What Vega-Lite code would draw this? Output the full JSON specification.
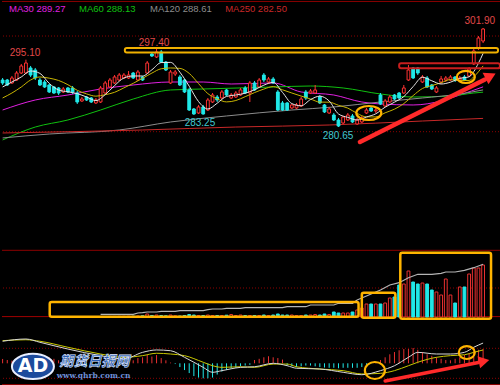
{
"$schema": "https://vega.github.io/schema/vega-lite/v6.json",
"background": "#000000",
"padding": 0,
"spacing": 0,
"config": {"view": {"stroke": null}, "concat": {"spacing": 0}, "text": {"font": "Liberation Sans"}, "scale": {"continuousPadding": 0}},
"datasets": {
"k": [
{"i":0,"o":290.74,"h":291.17,"l":289.67,"c":290.10,"v":0,"m":0.29},
{"i":1,"o":290.74,"h":290.96,"l":289.45,"c":289.67,"v":0,"m":0.22},
{"i":2,"o":290.10,"h":291.60,"l":289.88,"c":291.17,"v":0,"m":0.18},
{"i":3,"o":290.74,"h":292.67,"l":290.53,"c":292.24,"v":0,"m":0.15},
{"i":4,"o":292.24,"h":294.18,"l":292.03,"c":293.75,"v":0,"m":0.2},
{"i":5,"o":292.24,"h":295.10,"l":292.03,"c":294.39,"v":0,"m":0.25},
{"i":6,"o":293.32,"h":293.75,"l":291.39,"c":291.81,"v":0,"m":0.2},
{"i":7,"o":292.89,"h":293.32,"l":290.74,"c":291.17,"v":0,"m":0.15},
{"i":8,"o":290.74,"h":291.17,"l":289.45,"c":289.67,"v":0,"m":0.3},
{"i":9,"o":290.31,"h":290.74,"l":289.03,"c":289.24,"v":0,"m":0.35},
{"i":10,"o":289.67,"h":289.88,"l":287.95,"c":288.17,"v":0,"m":0.4},
{"i":11,"o":289.24,"h":289.45,"l":287.74,"c":287.95,"v":0,"m":0.3},
{"i":12,"o":289.03,"h":289.24,"l":287.52,"c":287.95,"v":0,"m":0.2},
{"i":13,"o":288.17,"h":289.24,"l":287.95,"c":288.81,"v":0,"m":0.1},
{"i":14,"o":289.03,"h":289.24,"l":287.95,"c":288.17,"v":0,"m":-0.1},
{"i":15,"o":289.03,"h":289.45,"l":287.74,"c":288.17,"v":0,"m":-0.15},
{"i":16,"o":287.95,"h":288.38,"l":285.59,"c":286.02,"v":0,"m":-0.2},
{"i":17,"o":286.24,"h":287.09,"l":286.02,"c":286.66,"v":0,"m":-0.2},
{"i":18,"o":287.09,"h":287.31,"l":286.24,"c":286.45,"v":0,"m":-0.15},
{"i":19,"o":286.88,"h":287.09,"l":285.81,"c":286.02,"v":0,"m":-0.1},
{"i":20,"o":285.81,"h":286.88,"l":285.59,"c":286.45,"v":0,"m":-0.1},
{"i":21,"o":286.02,"h":289.45,"l":285.81,"c":289.03,"v":0.5,"m":-0.08},
{"i":22,"o":287.95,"h":290.53,"l":287.74,"c":290.10,"v":0.5,"m":-0.05},
{"i":23,"o":289.24,"h":291.17,"l":289.03,"c":290.74,"v":0.6,"m":0.05},
{"i":24,"o":290.10,"h":291.81,"l":289.88,"c":291.39,"v":0.6,"m":0.1},
{"i":25,"o":290.74,"h":292.24,"l":290.53,"c":291.81,"v":0.7,"m":0.1},
{"i":26,"o":291.17,"h":292.24,"l":290.96,"c":291.81,"v":0.7,"m":0.1},
{"i":27,"o":291.17,"h":292.67,"l":290.96,"c":291.81,"v":0.8,"m":0.15},
{"i":28,"o":292.24,"h":292.46,"l":290.96,"c":291.17,"v":0.8,"m":0.2},
{"i":29,"o":290.74,"h":292.89,"l":290.53,"c":292.46,"v":1.0,"m":0.35},
{"i":30,"o":291.39,"h":291.60,"l":290.53,"c":290.74,"v":1.2,"m":0.4},
{"i":31,"o":292.24,"h":294.82,"l":292.03,"c":294.39,"v":3.0,"m":0.55},
{"i":32,"o":296.32,"h":296.54,"l":295.68,"c":295.89,"v":1.5,"m":0.45},
{"i":33,"o":295.68,"h":297.40,"l":295.46,"c":296.75,"v":2.0,"m":0.55},
{"i":34,"o":296.75,"h":297.18,"l":294.39,"c":294.60,"v":1.5,"m":0.35},
{"i":35,"o":294.60,"h":294.82,"l":292.67,"c":292.89,"v":1.2,"m":0.2},
{"i":36,"o":290.10,"h":292.89,"l":289.88,"c":292.46,"v":2.0,"m":0.05},
{"i":37,"o":292.03,"h":292.89,"l":291.60,"c":292.46,"v":1.2,"m":-0.05},
{"i":38,"o":291.39,"h":291.81,"l":289.45,"c":289.67,"v":1.0,"m":-0.25},
{"i":39,"o":290.74,"h":290.96,"l":287.95,"c":288.17,"v":1.5,"m":-0.45},
{"i":40,"o":288.60,"h":289.03,"l":284.09,"c":284.30,"v":2.5,"m":-0.65},
{"i":41,"o":284.52,"h":284.73,"l":283.25,"c":283.45,"v":2.0,"m":-0.85},
{"i":42,"o":283.66,"h":285.38,"l":283.45,"c":284.95,"v":1.5,"m":-0.95},
{"i":43,"o":284.95,"h":285.38,"l":283.30,"c":283.45,"v":1.5,"m":-1.0},
{"i":44,"o":284.30,"h":286.88,"l":284.09,"c":286.45,"v":2.0,"m":-1.0},
{"i":45,"o":286.02,"h":287.95,"l":285.81,"c":287.52,"v":1.5,"m":-0.95},
{"i":46,"o":287.09,"h":287.52,"l":286.02,"c":286.45,"v":1.5,"m":-0.75},
{"i":47,"o":286.88,"h":288.60,"l":286.66,"c":288.17,"v":1.5,"m":-0.55},
{"i":48,"o":288.60,"h":288.81,"l":287.31,"c":287.52,"v":1.8,"m":-0.45},
{"i":49,"o":286.88,"h":287.95,"l":286.66,"c":287.52,"v":2.5,"m":-0.35},
{"i":50,"o":287.09,"h":288.38,"l":286.88,"c":287.95,"v":1.5,"m":-0.3},
{"i":51,"o":287.52,"h":289.03,"l":287.31,"c":288.60,"v":2.0,"m":-0.2},
{"i":52,"o":289.03,"h":289.45,"l":287.74,"c":287.95,"v":1.5,"m":-0.15},
{"i":53,"o":287.95,"h":290.53,"l":286.02,"c":290.10,"v":1.5,"m":-0.1},
{"i":54,"o":290.10,"h":290.53,"l":288.38,"c":288.60,"v":1.5,"m":0.22},
{"i":55,"o":289.24,"h":291.17,"l":289.03,"c":290.74,"v":1.5,"m":0.3},
{"i":56,"o":291.81,"h":292.24,"l":290.31,"c":290.74,"v":2.0,"m":0.4},
{"i":57,"o":290.31,"h":291.39,"l":289.88,"c":290.96,"v":1.5,"m":0.47},
{"i":58,"o":290.96,"h":291.39,"l":289.88,"c":290.10,"v":2.0,"m":0.4},
{"i":59,"o":288.17,"h":288.60,"l":284.09,"c":284.30,"v":3.0,"m":0.35},
{"i":60,"o":285.81,"h":286.24,"l":284.09,"c":284.30,"v":2.0,"m":0.25},
{"i":61,"o":285.81,"h":286.02,"l":284.09,"c":284.30,"v":2.0,"m":-0.15},
{"i":62,"o":284.73,"h":285.59,"l":284.52,"c":285.38,"v":2.0,"m":-0.2},
{"i":63,"o":284.73,"h":285.81,"l":284.52,"c":285.38,"v":1.5,"m":-0.25},
{"i":64,"o":285.16,"h":287.09,"l":284.95,"c":286.66,"v":1.5,"m":-0.2},
{"i":65,"o":288.17,"h":288.60,"l":286.45,"c":286.88,"v":2.0,"m":-0.15},
{"i":66,"o":287.95,"h":288.81,"l":287.74,"c":288.38,"v":2.0,"m":-0.15},
{"i":67,"o":287.95,"h":289.67,"l":287.74,"c":288.60,"v":2.5,"m":-0.2},
{"i":68,"o":287.09,"h":287.52,"l":285.59,"c":285.81,"v":2.0,"m":-0.25},
{"i":69,"o":285.38,"h":285.59,"l":283.66,"c":283.88,"v":3.0,"m":-0.28},
{"i":70,"o":283.66,"h":284.95,"l":283.45,"c":284.52,"v":2.5,"m":-0.3},
{"i":71,"o":283.23,"h":283.66,"l":281.94,"c":282.16,"v":5.0,"m":-0.3},
{"i":72,"o":282.16,"h":282.59,"l":280.65,"c":280.87,"v":4.0,"m":-0.33},
{"i":73,"o":281.51,"h":283.02,"l":281.30,"c":282.80,"v":4.0,"m":-0.3},
{"i":74,"o":282.16,"h":283.66,"l":281.94,"c":283.23,"v":4.0,"m":-0.3},
{"i":75,"o":283.02,"h":283.45,"l":281.51,"c":281.73,"v":5.0,"m":-0.3},
{"i":76,"o":281.30,"h":282.59,"l":281.09,"c":282.16,"v":7.0,"m":-0.3},
{"i":77,"o":281.73,"h":283.02,"l":281.51,"c":282.59,"v":9.0,"m":-0.25},
{"i":78,"o":283.66,"h":284.73,"l":283.45,"c":284.30,"v":13,"m":-0.1},
{"i":79,"o":284.73,"h":284.95,"l":283.88,"c":284.09,"v":13,"m":-0.03},
{"i":80,"o":284.09,"h":284.73,"l":283.66,"c":284.30,"v":13,"m":0.08},
{"i":81,"o":287.52,"h":287.95,"l":285.38,"c":285.59,"v":13,"m":0.22},
{"i":82,"o":285.16,"h":286.66,"l":284.95,"c":286.24,"v":14,"m":0.4},
{"i":83,"o":286.02,"h":287.52,"l":285.81,"c":287.09,"v":19,"m":0.6},
{"i":84,"o":287.52,"h":287.74,"l":286.45,"c":286.66,"v":20,"m":0.75},
{"i":85,"o":287.95,"h":288.17,"l":286.66,"c":286.88,"v":32,"m":0.87},
{"i":86,"o":287.95,"h":289.67,"l":287.74,"c":289.03,"v":33,"m":0.95},
{"i":87,"o":290.74,"h":293.96,"l":290.53,"c":292.89,"v":46,"m":0.95},
{"i":88,"o":293.32,"h":293.53,"l":290.96,"c":291.17,"v":35,"m":1.02},
{"i":89,"o":293.32,"h":293.53,"l":291.81,"c":292.24,"v":33,"m":0.9},
{"i":90,"o":290.31,"h":291.81,"l":290.10,"c":291.39,"v":34,"m":0.75},
{"i":91,"o":291.17,"h":291.60,"l":289.03,"c":289.24,"v":33,"m":0.6},
{"i":92,"o":289.67,"h":289.88,"l":288.60,"c":288.81,"v":27,"m":0.5},
{"i":93,"o":288.17,"h":289.45,"l":287.95,"c":289.03,"v":25,"m":0.4},
{"i":94,"o":290.31,"h":291.60,"l":289.88,"c":290.96,"v":22,"m":0.3},
{"i":95,"o":290.74,"h":291.60,"l":290.31,"c":291.17,"v":38,"m":0.22},
{"i":96,"o":290.74,"h":291.81,"l":290.53,"c":291.39,"v":22,"m":0.2},
{"i":97,"o":291.39,"h":291.60,"l":290.31,"c":290.74,"v":14,"m":0.3},
{"i":98,"o":290.74,"h":291.60,"l":290.31,"c":291.17,"v":30,"m":0.4},
{"i":99,"o":291.39,"h":291.81,"l":290.53,"c":290.74,"v":30,"m":0.55},
{"i":100,"o":291.60,"h":293.53,"l":291.39,"c":293.10,"v":43,"m":0.65},
{"i":101,"o":294.18,"h":297.61,"l":293.96,"c":296.97,"v":49,"m":0.8},
{"i":102,"o":297.61,"h":300.18,"l":297.18,"c":299.76,"v":49,"m":0.9},
{"i":103,"o":299.11,"h":301.90,"l":298.68,"c":301.69,"v":52,"m":0.95}
],
"ma": [
{"i":0,"a5":289.24,"a10":286.88},{"i":2,"a5":290.31,"a10":287.95},{"i":4,"a5":291.39,"a10":289.24},{"i":6,"a5":292.67,"a10":290.74},
{"i":8,"a5":292.16,"a10":291.39},{"i":10,"a5":290.01,"a10":291.13},{"i":12,"a5":288.60,"a10":290.64},{"i":14,"a5":288.21,"a10":289.73},
{"i":16,"a5":287.82,"a10":288.53},{"i":18,"a5":287.09,"a10":287.76},{"i":20,"a5":286.32,"a10":287.27},{"i":22,"a5":287.61,"a10":287.59},
{"i":24,"a5":289.54,"a10":288.10},{"i":26,"a5":291.17,"a10":289.05},{"i":28,"a5":291.60,"a10":290.03},{"i":30,"a5":291.60,"a10":291.11},
{"i":32,"a5":292.93,"a10":292.22},{"i":34,"a5":294.48,"a10":293.15},{"i":36,"a5":294.52,"a10":293.32},{"i":38,"a5":292.42,"a10":293.23},
{"i":40,"a5":289.41,"a10":292.16},{"i":42,"a5":286.11,"a10":289.97},{"i":44,"a5":284.52,"a10":287.82},{"i":46,"a5":285.76,"a10":286.69},
{"i":48,"a5":287.22,"a10":286.04},{"i":50,"a5":287.52,"a10":286.34},{"i":52,"a5":287.91,"a10":287.16},{"i":54,"a5":288.64,"a10":288.04},
{"i":56,"a5":289.63,"a10":288.79},{"i":58,"a5":290.23,"a10":289.33},{"i":60,"a5":288.08,"a10":288.64},{"i":62,"a5":285.68,"a10":287.95},
{"i":64,"a5":285.21,"a10":287.29},{"i":66,"a5":286.54,"a10":286.66},{"i":68,"a5":287.27,"a10":286.00},{"i":70,"a5":286.24,"a10":285.98},
{"i":72,"a5":283.45,"a10":285.31},{"i":74,"a5":282.72,"a10":284.71},{"i":76,"a5":282.16,"a10":283.57},{"i":78,"a5":282.80,"a10":282.82},
{"i":80,"a5":283.49,"a10":282.82},{"i":82,"a5":284.91,"a10":283.70},{"i":84,"a5":285.98,"a10":284.48},{"i":86,"a5":287.18,"a10":285.68},
{"i":88,"a5":289.33,"a10":287.39},{"i":90,"a5":291.34,"a10":288.92},{"i":92,"a5":290.57,"a10":289.54},{"i":94,"a5":289.88,"a10":290.16},
{"i":96,"a5":290.27,"a10":290.83},{"i":98,"a5":291.09,"a10":290.61},{"i":100,"a5":291.43,"a10":290.64},{"i":101,"a5":292.55,"a10":291.41},
{"i":102,"a5":294.35,"a10":292.50},{"i":103,"a5":296.45,"a10":293.77}
],
"mal": [
{"s":"MA30","i":0,"p":284.30},{"s":"MA30","i":7,"p":286.45},{"s":"MA30","i":14,"p":287.52},{"s":"MA30","i":21,"p":288.81},{"s":"MA30","i":28,"p":289.67},{"s":"MA30","i":36,"p":290.31},{"s":"MA30","i":43,"p":290.31},{"s":"MA30","i":49,"p":289.88},{"s":"MA30","i":58,"p":290.10},{"s":"MA30","i":64,"p":288.17},{"s":"MA30","i":71,"p":287.52},{"s":"MA30","i":77,"p":286.02},{"s":"MA30","i":81,"p":285.59},{"s":"MA30","i":88,"p":285.38},{"s":"MA30","i":94,"p":286.24},{"s":"MA30","i":98,"p":287.52},{"s":"MA30","i":103,"p":289.27},
{"s":"MA60","i":0,"p":277.87},{"s":"MA60","i":7,"p":280.65},{"s":"MA60","i":14,"p":282.16},{"s":"MA60","i":21,"p":284.30},{"s":"MA60","i":28,"p":286.66},{"s":"MA60","i":36,"p":288.60},{"s":"MA60","i":43,"p":288.81},{"s":"MA60","i":58,"p":289.24},{"s":"MA60","i":66,"p":289.45},{"s":"MA60","i":73,"p":289.03},{"s":"MA60","i":81,"p":287.74},{"s":"MA60","i":88,"p":287.09},{"s":"MA60","i":96,"p":287.31},{"s":"MA60","i":101,"p":287.95},{"s":"MA60","i":103,"p":288.13},
{"s":"MA120","i":0,"p":278.30},{"s":"MA120","i":10,"p":279.15},{"s":"MA120","i":25,"p":280.01},{"s":"MA120","i":36,"p":281.73},{"s":"MA120","i":48,"p":283.02},{"s":"MA120","i":62,"p":284.30},{"s":"MA120","i":71,"p":284.95},{"s":"MA120","i":81,"p":286.02},{"s":"MA120","i":90,"p":286.88},{"s":"MA120","i":98,"p":287.74},{"s":"MA120","i":103,"p":288.61},
{"s":"MA250","i":0,"p":279.37},{"s":"MA250","i":30,"p":280.01},{"s":"MA250","i":50,"p":280.65},{"s":"MA250","i":70,"p":281.08},{"s":"MA250","i":90,"p":281.94},{"s":"MA250","i":103,"p":282.50}
],
"oi": [
{"i":21,"q":2.7},{"i":28,"q":2.7},{"i":29,"q":4},{"i":30,"q":4.3},{"i":31,"q":5},{"i":33,"q":5},{"i":34,"q":5.7},{"i":37,"q":5.7},{"i":38,"q":6.3},{"i":43,"q":6.3},{"i":44,"q":7.3},{"i":45,"q":8},{"i":47,"q":8},{"i":48,"q":8.7},{"i":51,"q":8.7},{"i":52,"q":9.3},{"i":60,"q":9.3},{"i":61,"q":10.3},{"i":65,"q":10.3},{"i":66,"q":12},{"i":71,"q":12},{"i":72,"q":13.7},{"i":75,"q":13.7},{"i":76,"q":17},{"i":79,"q":23},{"i":81,"q":27},{"i":83,"q":32},{"i":85,"q":34.3},{"i":87,"q":39.3},{"i":89,"q":42.7},{"i":92,"q":42.7},{"i":94,"q":43.7},{"i":95,"q":45},{"i":97,"q":45},{"i":99,"q":46.7},{"i":101,"q":49.3},{"i":103,"q":52.7}
],
"ml": [
{"i":0,"dif":1.47,"dea":1.51},{"i":5,"dif":1.62,"dea":1.57},{"i":8,"dif":1.40,"dea":1.47},{"i":14,"dif":0.95,"dea":1.07},{"i":21,"dif":0.51,"dea":0.62},{"i":26,"dif":0.29,"dea":0.40},{"i":30,"dif":0.73,"dea":0.51},{"i":33,"dif":0.89,"dea":0.67},{"i":36,"dif":0.84,"dea":0.62},{"i":39,"dif":0.40,"dea":0.51},{"i":43,"dif":-0.27,"dea":0.07},{"i":45,"dif":-0.60,"dea":-0.16},{"i":47,"dif":-0.49,"dea":-0.27},{"i":51,"dif":-0.27,"dea":-0.23},{"i":54,"dif":-0.23,"dea":-0.27},{"i":58,"dif":0.0,"dea":-0.05},{"i":61,"dif":-0.16,"dea":-0.05},{"i":63,"dif":-0.33,"dea":-0.23},{"i":68,"dif":-0.38,"dea":-0.38},{"i":73,"dif":-0.60,"dea":-0.49},{"i":77,"dif":-0.76,"dea":-0.71},{"i":81,"dif":-0.49,"dea":-0.67},{"i":84,"dif":-0.16,"dea":-0.49},{"i":87,"dif":0.40,"dea":-0.16},{"i":89,"dif":0.73,"dea":0.07},{"i":93,"dif":0.62,"dea":0.40},{"i":96,"dif":0.62,"dea":0.51},{"i":99,"dif":0.73,"dea":0.57},{"i":101,"dif":1.07,"dea":0.73},{"i":103,"dif":1.35,"dea":0.89}
]
},
"vconcat": [
{
"width": 500, "height": 249,
"layer": [
{"data": {"values": [{"p": 307.6}]}, "mark": {"type": "rule", "color": "#8c0000", "strokeWidth": 1},
 "encoding": {"y": {"field": "p", "type": "quantitative", "scale": {"domain": [254.47, 307.91], "nice": false, "zero": false}, "axis": null}}},
{"data": {"values": [{"p": 300.18}, {"p": 279.65}]}, "mark": {"type": "rule", "color": "#8c0000", "strokeWidth": 1, "strokeDash": [1, 2]},
 "encoding": {"y": {"field": "p", "type": "quantitative", "scale": {"domain": [254.47, 307.91], "nice": false, "zero": false}, "axis": null}}},
{"data": {"name": "mal"}, "mark": {"type": "line", "strokeWidth": 1, "interpolate": "monotone"},
 "encoding": {"x": {"field": "i", "type": "quantitative", "scale": {"domain": [-0.13, 107.05], "nice": false, "zero": false, "padding": 0}, "axis": null},
  "y": {"field": "p", "type": "quantitative", "scale": {"domain": [254.47, 307.91], "nice": false, "zero": false}, "axis": null},
  "color": {"field": "s", "type": "nominal", "scale": {"domain": ["MA30", "MA60", "MA120", "MA250"], "range": ["#e020e0", "#10c010", "#8c8c8c", "#c82828"]}, "legend": null}}},
{"data": {"name": "k"}, "mark": {"type": "rule", "strokeWidth": 1},
 "encoding": {"x": {"field": "i", "type": "quantitative", "scale": {"domain": [-0.13, 107.05], "nice": false, "zero": false, "padding": 0}, "axis": null},
  "y": {"field": "l", "type": "quantitative", "scale": {"domain": [254.47, 307.91], "nice": false, "zero": false}, "axis": null},
  "y2": {"field": "h"},
  "color": {"condition": {"test": "datum.c >= datum.o", "value": "#ff3232"}, "value": "#20e8e8"}}},
{"data": {"name": "k"}, "mark": {"type": "bar", "size": 2.8, "strokeWidth": 1},
 "encoding": {"x": {"field": "i", "type": "quantitative", "scale": {"domain": [-0.13, 107.05], "nice": false, "zero": false, "padding": 0}, "axis": null},
  "y": {"field": "o", "type": "quantitative", "scale": {"domain": [254.47, 307.91], "nice": false, "zero": false}, "axis": null},
  "y2": {"field": "c"},
  "fill": {"condition": {"test": "datum.c >= datum.o", "value": "#000000"}, "value": "#20e8e8"},
  "stroke": {"condition": {"test": "datum.c >= datum.o", "value": "#ff3232"}, "value": "#20e8e8"}}},
{"data": {"name": "ma"}, "mark": {"type": "line", "strokeWidth": 1, "color": "#c8b400", "interpolate": "monotone"},
 "encoding": {"x": {"field": "i", "type": "quantitative", "axis": null},
  "y": {"field": "a10", "type": "quantitative", "axis": null}}},
{"data": {"name": "ma"}, "mark": {"type": "line", "strokeWidth": 1, "color": "#e6e6e6", "interpolate": "monotone"},
 "encoding": {"x": {"field": "i", "type": "quantitative", "axis": null},
  "y": {"field": "a5", "type": "quantitative", "axis": null}}},
{"data": {"values": [{"i": 26.2, "i2": 106.2, "p": 297.61, "p2": 296.64}]}, "mark": {"type": "rect", "fill": "#000000", "fillOpacity": 0, "stroke": "#f0b000", "strokeWidth": 2, "cornerRadius": 2},
 "encoding": {"x": {"field": "i", "type": "quantitative", "axis": null}, "x2": {"field": "i2"}, "y": {"field": "p", "type": "quantitative", "axis": null}, "y2": {"field": "p2"}}},
{"data": {"values": [{"i": 85.0, "i2": 106.6, "p": 294.33, "p2": 293.25}]}, "mark": {"type": "rect", "fill": "#000000", "fillOpacity": 0, "stroke": "#c81e1e", "strokeWidth": 2, "cornerRadius": 2},
 "encoding": {"x": {"field": "i", "type": "quantitative", "axis": null}, "x2": {"field": "i2"}, "y": {"field": "p", "type": "quantitative", "axis": null}, "y2": {"field": "p2"}}},
{"data": {"values": [{"i": 78.5, "p": 283.66}]}, "mark": {"type": "point", "shape": "M-1,0A1,0.56,0,1,1,1,0A1,0.56,0,1,1,-1,0Z", "size": 625, "filled": false, "stroke": "#ffb400", "strokeWidth": 2.2, "opacity": 1},
 "encoding": {"x": {"field": "i", "type": "quantitative", "axis": null}, "y": {"field": "p", "type": "quantitative", "axis": null}}},
{"data": {"values": [{"i": 99.3, "p": 291.39}]}, "mark": {"type": "point", "shape": "M-1,0A1,0.67,0,1,1,1,0A1,0.67,0,1,1,-1,0Z", "size": 324, "filled": false, "stroke": "#ffb400", "strokeWidth": 2.2, "opacity": 1},
 "encoding": {"x": {"field": "i", "type": "quantitative", "axis": null}, "y": {"field": "p", "type": "quantitative", "axis": null}}},
{"data": {"values": [{"i": 76.6, "p": 277.44, "i2": 103.4, "p2": 290.85}]}, "mark": {"type": "rule", "color": "#ff2a2a", "strokeWidth": 4.5, "strokeCap": "round"},
 "encoding": {"x": {"field": "i", "type": "quantitative", "axis": null}, "x2": {"field": "i2"}, "y": {"field": "p", "type": "quantitative", "axis": null}, "y2": {"field": "p2"}}},
{"data": {"values": [{"i": 104.6, "p": 291.6}]}, "mark": {"type": "point", "shape": "triangle-up", "angle": 63, "size": 170, "filled": true, "color": "#ff2a2a", "opacity": 1},
 "encoding": {"x": {"field": "i", "type": "quantitative", "axis": null}, "y": {"field": "p", "type": "quantitative", "axis": null}}},
{"data": {"values": [{"i": 4.8, "p": 296.54, "t": "295.10", "k": "hi"}, {"i": 32.45, "p": 298.68, "t": "297.40", "k": "hi"}, {"i": 42.3, "p": 281.51, "t": "283.25", "k": "lo"}, {"i": 71.9, "p": 278.72, "t": "280.65", "k": "lo"}, {"i": 102.3, "p": 303.4, "t": "301.90", "k": "hi"}]},
 "mark": {"type": "text", "fontSize": 10, "align": "center", "baseline": "middle"},
 "encoding": {"x": {"field": "i", "type": "quantitative", "axis": null}, "y": {"field": "p", "type": "quantitative", "axis": null}, "text": {"field": "t"},
  "color": {"condition": {"test": "datum.k == 'lo'", "value": "#40c8d0"}, "value": "#e04848"}}},
{"data": {"values": [{"i": 1.37, "p": 305.98, "t": "MA30 289.27", "s": "MA30"}, {"i": 16.38, "p": 305.98, "t": "MA60 288.13", "s": "MA60"}, {"i": 31.6, "p": 305.98, "t": "MA120 288.61", "s": "MA120"}, {"i": 47.7, "p": 305.98, "t": "MA250 282.50", "s": "MA250"}]},
 "mark": {"type": "text", "fontSize": 9.5, "align": "left", "baseline": "middle"},
 "encoding": {"x": {"field": "i", "type": "quantitative", "axis": null}, "y": {"field": "p", "type": "quantitative", "axis": null}, "text": {"field": "t"},
  "color": {"field": "s", "type": "nominal", "scale": {"domain": ["MA30", "MA60", "MA120", "MA250"], "range": ["#e020e0", "#10c010", "#8c8c8c", "#c82828"]}, "legend": null}}}
]
},
{
"width": 500, "height": 67,
"layer": [
{"data": {"values": [{"v": 66.7}]}, "mark": {"type": "rule", "color": "#8c0000", "strokeWidth": 1},
 "encoding": {"y": {"field": "v", "type": "quantitative", "scale": {"domain": [0, 67], "nice": false, "zero": true, "padding": 0}, "axis": null}}},
{"data": {"values": [{"v": 29}]}, "mark": {"type": "rule", "color": "#8c0000", "strokeWidth": 1, "strokeDash": [1, 2]},
 "encoding": {"y": {"field": "v", "type": "quantitative", "axis": null}}},
{"data": {"values": [{"v": 0.4}]}, "mark": {"type": "rule", "color": "#a00000", "strokeWidth": 1},
 "encoding": {"y": {"field": "v", "type": "quantitative", "axis": null}}},
{"data": {"name": "k"}, "transform": [{"filter": "datum.v > 0"}], "mark": {"type": "bar", "size": 2.8, "strokeWidth": 1},
 "encoding": {"x": {"field": "i", "type": "quantitative", "scale": {"domain": [-0.13, 107.05], "nice": false, "zero": false, "padding": 0}, "axis": null},
  "y": {"field": "v", "type": "quantitative", "axis": null},
  "fill": {"condition": {"test": "datum.c >= datum.o", "value": "#000000"}, "value": "#20e8e8"},
  "stroke": {"condition": {"test": "datum.c >= datum.o", "value": "#e83030"}, "value": "#20e8e8"}}},
{"data": {"name": "oi"}, "mark": {"type": "line", "color": "#b4b4b4", "strokeWidth": 1.2},
 "encoding": {"x": {"field": "i", "type": "quantitative", "axis": null}, "y": {"field": "q", "type": "quantitative", "axis": null}}},
{"data": {"values": [{"i": 10.1, "i2": 76.3, "v": 15, "v2": 0.3}, {"i": 77.0, "i2": 84.2, "v": 24.3, "v2": -0.7}, {"i": 85.25, "i2": 104.7, "v": 64.3, "v2": -1.7}]},
 "mark": {"type": "rect", "fill": "#000000", "fillOpacity": 0, "stroke": "#ffb400", "strokeWidth": 2.5, "cornerRadius": 2},
 "encoding": {"x": {"field": "i", "type": "quantitative", "axis": null}, "x2": {"field": "i2"}, "y": {"field": "v", "type": "quantitative", "axis": null}, "y2": {"field": "v2"}}}
]
},
{
"width": 500, "height": 69,
"layer": [
{"data": {"values": [{"m": 1}, {"m": -1}]}, "mark": {"type": "rule", "color": "#8c0000", "strokeWidth": 1, "strokeDash": [1, 2]},
 "encoding": {"y": {"field": "m", "type": "quantitative", "scale": {"domain": [-1.713, 2.887], "nice": false, "zero": false}, "axis": null}}},
{"data": {"values": [{"m": -1.447}]}, "mark": {"type": "rule", "color": "#b40000", "strokeWidth": 1.5},
 "encoding": {"y": {"field": "m", "type": "quantitative", "axis": null}}},
{"data": {"name": "k"}, "mark": {"type": "rule", "strokeWidth": 1},
 "encoding": {"x": {"field": "i", "type": "quantitative", "scale": {"domain": [-0.13, 107.05], "nice": false, "zero": false, "padding": 0}, "axis": null},
  "y": {"field": "m", "type": "quantitative", "axis": null}, "y2": {"datum": 0},
  "color": {"condition": {"test": "datum.m >= 0", "value": "#e83030"}, "value": "#20e8e8"}}},
{"data": {"name": "ml"}, "mark": {"type": "line", "color": "#c8c800", "strokeWidth": 1, "interpolate": "monotone"},
 "encoding": {"x": {"field": "i", "type": "quantitative", "axis": null}, "y": {"field": "dea", "type": "quantitative", "axis": null}}},
{"data": {"name": "ml"}, "mark": {"type": "line", "color": "#d8d8d8", "strokeWidth": 1, "interpolate": "monotone"},
 "encoding": {"x": {"field": "i", "type": "quantitative", "axis": null}, "y": {"field": "dif", "type": "quantitative", "axis": null}}},
{"data": {"values": [{"i": 79.8, "m": -0.48}]}, "mark": {"type": "point", "shape": "M-1,0A1,0.85,0,1,1,1,0A1,0.85,0,1,1,-1,0Z", "size": 400, "filled": false, "stroke": "#ffb400", "strokeWidth": 2.2, "opacity": 1},
 "encoding": {"x": {"field": "i", "type": "quantitative", "axis": null}, "y": {"field": "m", "type": "quantitative", "axis": null}}},
{"data": {"values": [{"i": 99.5, "m": 0.72}]}, "mark": {"type": "point", "shape": "M-1,0A1,0.81,0,1,1,1,0A1,0.81,0,1,1,-1,0Z", "size": 256, "filled": false, "stroke": "#ffb400", "strokeWidth": 2.2, "opacity": 1},
 "encoding": {"x": {"field": "i", "type": "quantitative", "axis": null}, "y": {"field": "m", "type": "quantitative", "axis": null}}},
{"data": {"values": [{"i": 82.0, "m": -1.18, "i2": 102.0, "m2": 0.05}]}, "mark": {"type": "rule", "color": "#ff2a2a", "strokeWidth": 3.5, "strokeCap": "round"},
 "encoding": {"x": {"field": "i", "type": "quantitative", "axis": null}, "x2": {"field": "i2"}, "y": {"field": "m", "type": "quantitative", "axis": null}, "y2": {"field": "m2"}}},
{"data": {"values": [{"i": 103.2, "m": 0.15}]}, "mark": {"type": "point", "shape": "triangle-up", "angle": 78, "size": 150, "filled": true, "color": "#ff2a2a", "opacity": 1},
 "encoding": {"x": {"field": "i", "type": "quantitative", "axis": null}, "y": {"field": "m", "type": "quantitative", "axis": null}}},
{"data": {"values": [{"i": 6.5, "m": -0.21}]}, "mark": {"type": "point", "shape": "M-1,0A1,0.6,0,1,1,1,0A1,0.6,0,1,1,-1,0Z", "size": 1764, "filled": true, "fill": "#1c4a9c", "stroke": "#e8eeff", "strokeWidth": 2, "opacity": 1},
 "encoding": {"x": {"field": "i", "type": "quantitative", "axis": null}, "y": {"field": "m", "type": "quantitative", "axis": null}}},
{"data": {"values": [{"i": 6.5, "m": -0.21, "t": "AD"}]}, "mark": {"type": "text", "font": "DejaVu Sans", "fontSize": 19, "fontWeight": "bold", "align": "center", "baseline": "middle", "color": "#ffffff"},
 "encoding": {"x": {"field": "i", "type": "quantitative", "axis": null}, "y": {"field": "m", "type": "quantitative", "axis": null}, "text": {"field": "t"}}},
{"data": {"values": [{"i": 19.7, "m": 0.1, "t": "期货日报网"}]}, "mark": {"type": "text", "font": "Noto Sans CJK SC", "fontSize": 14, "fontWeight": "bold", "fontStyle": "italic", "align": "center", "baseline": "middle", "color": "#2a5cb0", "stroke": "#dfe8ff", "strokeWidth": 0.6},
 "encoding": {"x": {"field": "i", "type": "quantitative", "axis": null}, "y": {"field": "m", "type": "quantitative", "axis": null}, "text": {"field": "t"}}},
{"data": {"values": [{"i": 19.5, "m": -0.82, "t": "www.qhrb.com.cn"}]}, "mark": {"type": "text", "font": "DejaVu Serif", "fontSize": 7.5, "fontWeight": "bold", "align": "center", "baseline": "middle", "color": "#7090d8"},
 "encoding": {"x": {"field": "i", "type": "quantitative", "axis": null}, "y": {"field": "m", "type": "quantitative", "axis": null}, "text": {"field": "t"}}}
]
}
]
}
